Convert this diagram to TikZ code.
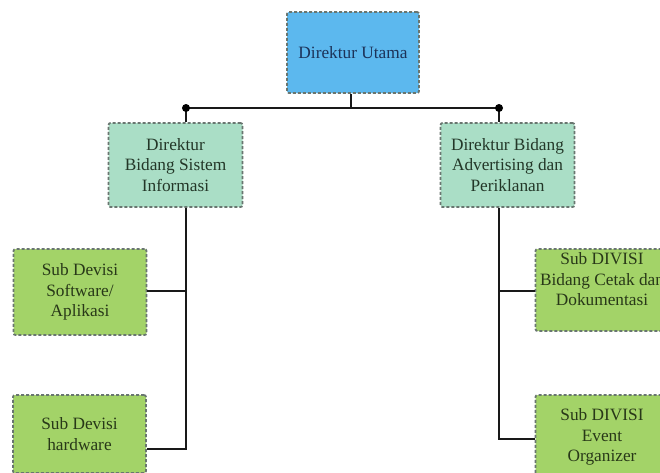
\documentclass[tikz,border=0pt]{standalone}
\usepackage{fontspec}
\setmainfont{Liberation Serif}
\definecolor{topfill}{RGB}{92,184,238}
\definecolor{midfill}{RGB}{170,222,198}
\definecolor{subfill}{RGB}{163,211,104}
\definecolor{edgecol}{RGB}{105,118,112}
\definecolor{toptext}{RGB}{28,50,88}
\definecolor{midtext}{RGB}{35,55,40}
\definecolor{subtext}{RGB}{40,56,24}
\tikzset{
  box/.style={draw=edgecol, line width=1.8pt, dash pattern=on 3pt off 2pt,
    rounded corners=2pt, align=center, inner sep=2pt,
    font=\fontsize{17.3}{20.5}\selectfont},
  topbox/.style={box, fill=topfill, text=toptext, minimum width=132pt, minimum height=81pt},
  midbox/.style={box, fill=midfill, text=midtext, minimum width=134pt, minimum height=84pt},
  subbox/.style={box, fill=subfill, text=subtext, minimum width=133pt},
  conn/.style={draw=black!90, line width=1.7pt},
  dot/.style={circle, fill=black, inner sep=0pt, minimum size=8pt}
}
\begin{document}
\begin{tikzpicture}[x=1pt,y=-1pt]
\useasboundingbox (0,0) rectangle (660,472);
\clip (0,0) rectangle (660,472);
\fill[white] (0,0) rectangle (660,472);
% boxes
\node[topbox] (top) at (353,52.5) {Direktur Utama};
\node[midbox] (L) at (175.5,165) {Direktur\\Bidang Sistem\\Informasi};
\node[midbox] (R) at (507.5,165) {Direktur Bidang\\Advertising dan\\Periklanan};
\node[subbox, minimum height=86pt] (s1) at (80,292) {Sub Devisi\\Software/\\Aplikasi};
\node[subbox, minimum height=78pt] (s2) at (79.5,434) {Sub Devisi\\hardware};
\node[subbox, minimum height=82pt, text depth=22pt] (r1) at (602,290) {Sub DIVISI\\Bidang Cetak dan\\Dokumentasi};
\node[subbox, minimum height=84pt] (r2) at (602,437) {Sub DIVISI\\Event\\Organizer};
% junctions
\coordinate (hub) at (351,108);
\coordinate (jL) at (186,108);
\coordinate (jR) at (499,108);
\coordinate (bL) at (186,449);
\coordinate (bR) at (499,439);
\coordinate (mL) at (186,291);
\coordinate (mR) at (499,291);
% connectors
\draw[conn] (hub |- top.south) -- (hub);
\draw[conn] (jL) -- (jR);
\draw[conn] (jL) -- (jL |- L.north);
\draw[conn] (jR) -- (jR |- R.north);
\draw[conn] (jL |- L.south) -- (bL) -- (bL -| s2.east);
\draw[conn] (mL) -- (mL -| s1.east);
\draw[conn] (jR |- R.south) -- (bR) -- (bR -| r2.west);
\draw[conn] (mR) -- (mR -| r1.west);
\node[dot] (dL) at (jL) {};
\node[dot] (dR) at (jR) {};
\end{tikzpicture}
\end{document}
